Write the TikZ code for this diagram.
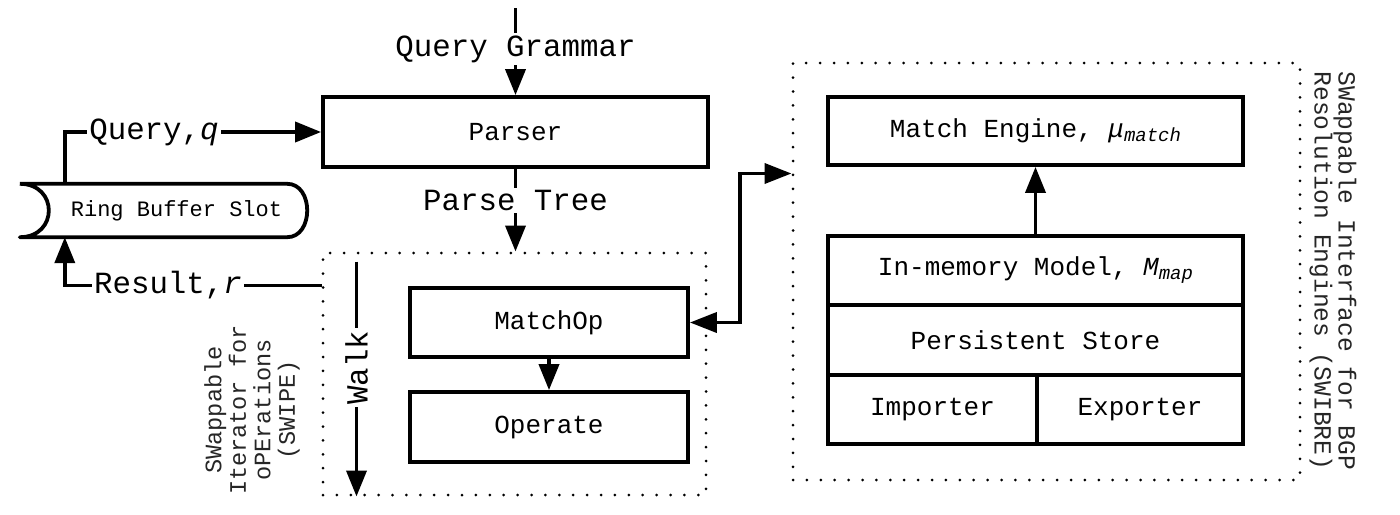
\documentclass[tikz,border=0pt]{standalone}
\usepackage{fontspec}
\setmainfont{Liberation Mono}
\usetikzlibrary{arrows.meta,calc}
\newcommand{\sbs}[1]{\raisebox{-4pt}{\fontsize{19}{20}\selectfont #1}}
\begin{document}
\begin{tikzpicture}[x=1pt,y=-1pt,
  box/.style={draw, line width=3.8pt, inner sep=0pt, font=\fontsize{26}{30}\selectfont},
  lbl/.style={fill=white, inner sep=2.5pt, font=\fontsize{30.8}{34}\selectfont},
  arr/.style={line width=3.8pt, -{Triangle[length=26pt,width=20pt]}},
  dotbox/.style={draw, line width=3pt, dash pattern=on 0pt off 13.9pt, line cap=round, inner sep=0pt},
  grouplbl/.style={text=black!85, align=center, inner sep=0pt}]
\useasboundingbox (0,0) rectangle (1400,514);

% left part
\node[box, minimum width=385pt, minimum height=70pt] (parser) at (515.5,132) {Parser};
\node[dotbox, minimum width=383pt, minimum height=242pt] (swipe) at (514.5,374) {};
\node[box, minimum width=278pt, minimum height=69pt] (matchop) at (549,322.5) {MatchOp};
\node[box, minimum width=278pt, minimum height=70pt] (operate) at (549,427) {Operate};
\node[grouplbl, rotate=90, font=\fontsize{23.6}{24.5}\selectfont] (swipelbl) at (252,410) {SWappable\\Iterator for\\oPErations\\(SWIPE)};

% ring buffer
\node[minimum width=287pt, minimum height=53pt, inner sep=0pt, font=\fontsize{22}{26}\selectfont] (rb) at (163.5,210.5) {\hspace*{26pt}Ring Buffer Slot};
\draw[line width=3.8pt, line join=round] (rb.north west) -- ([xshift=-20pt]rb.north east)
  .. controls ([xshift=6.7pt]rb.north east) and ([xshift=6.7pt]rb.south east) .. ([xshift=-20pt]rb.south east)
  -- (rb.south west)
  .. controls ([xshift=38.7pt]rb.south west) and ([xshift=38.7pt]rb.north west) .. (rb.north west);

% right part
\node[dotbox, minimum width=507pt, minimum height=417pt] (swibre) at (1046.5,271.5) {};
\node[box, minimum width=415pt, minimum height=68pt] (meng) at (1035.5,131) {Match Engine, {\itshape μ\sbs{match}}};
\node[box, minimum width=415pt, minimum height=69pt] (inmem) at (1035.5,270.5) {In-memory Model, {\itshape M\sbs{map}}};
\node[box, minimum width=415pt, minimum height=70pt] (persist) at (1035.5,340) {Persistent Store};
\node[box, minimum width=209pt, minimum height=69pt] (imp) at (932.5,409.5) {Importer};
\node[box, minimum width=206pt, minimum height=69pt] (expo) at (1140,409.5) {Exporter};
\node[grouplbl, rotate=-90, font=\fontsize{24.6}{24}\selectfont] (swibrelbl) at (1333,271) {SWappable Interface for BGP\\Resolution Engines (SWIBRE)};

% connectors
\coordinate (qg) at ([yshift=87pt]parser.north);
\draw[arr] (qg) -- node[lbl, pos=0.47] {Query Grammar} (parser.north);
\draw[arr] (parser.south) -- node[lbl, pos=0.384] {Parse Tree} (parser.south |- swipe.north);
\draw[arr] ([xshift=45pt]rb.north west) |- node[lbl, pos=0.674] {Query,{\itshape q}} (parser.west);
\draw[arr] ([yshift=-34pt]swipe.north west) -| node[lbl, pos=0.299] {Result,{\itshape r}} ([xshift=45pt]rb.south west);
\coordinate (wt) at ([xshift=35pt,yshift=-10pt]swipe.north west);
\draw[arr] (wt) -- node[lbl, rotate=90, pos=0.453] {Walk} (wt |- swipe.south);
\draw[arr] (matchop) -- (operate);
\draw[line width=3.8pt, {Triangle[length=27pt,width=20pt]}-{Triangle[length=27pt,width=20pt]}] (matchop.east) -- ++(50,0) |- ([yshift=-112pt]swibre.north west);
\draw[arr] (inmem) -- (meng);
\end{tikzpicture}
\end{document}
